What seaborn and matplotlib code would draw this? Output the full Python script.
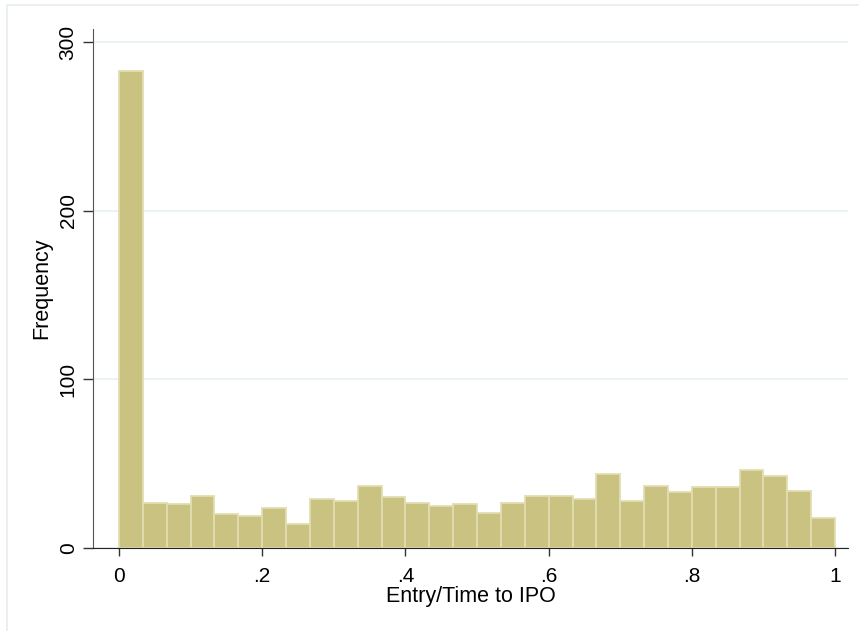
import matplotlib
matplotlib.use("Agg")

import numpy as np
import pandas as pd
import matplotlib.pyplot as plt
from matplotlib.lines import Line2D
import seaborn as sns

# 30 equal bins on [0, 1]
counts = [283, 27, 26, 31, 20, 19, 24, 14, 29, 28,
          37, 30, 27, 25, 26, 21, 27, 31, 31, 29,
          44, 28, 37, 33, 36, 36, 46, 43, 34, 18]
n_bins = len(counts)
edges = np.linspace(0, 1, n_bins + 1)
y_ticks = [0, 100, 200, 300]
x_ticks = [0, 0.2, 0.4, 0.6, 0.8, 1.0]
x_labels = ["0", ".2", ".4", ".6", ".8", "1"]

df = pd.DataFrame({"entry": (edges[:-1] + edges[1:]) / 2, "n": counts})

sns.set_style("white")
plt.rcParams["font.family"] = ["Liberation Sans", "DejaVu Sans"]
plt.rcParams["text.color"] = "black"
plt.rcParams["axes.labelcolor"] = "black"
plt.rcParams["xtick.color"] = "black"
plt.rcParams["ytick.color"] = "black"

fig = plt.figure(figsize=(8.59, 6.31), dpi=100)
ax = fig.add_axes([93 / 859, 1 - 548 / 631, (848 - 93) / 859, (548 - 29) / 631])

sns.histplot(data=df, x="entry", weights="n", bins=n_bins, binrange=(0, 1), ax=ax,
             color="#c9c281", edgecolor="#e2ddb0", linewidth=1.3, alpha=1)

ax.set_xlim(-0.0363, 1.018)
ax.set_ylim(0, 308)
ax.set_yticks(y_ticks)
ax.set_yticklabels([str(v) for v in y_ticks], rotation=90, va="center")
ax.set_xticks(x_ticks)
ax.set_xticklabels(x_labels)
ax.yaxis.grid(True, color="#e8f0f3", linewidth=1.2)
ax.set_axisbelow(True)
for s in ["top", "right"]:
    ax.spines[s].set_visible(False)
ax.spines["left"].set_color("#555555")
ax.spines["bottom"].set_color("#222222")
ax.tick_params(axis="y", length=7, width=1, color="#333333", labelsize=15, pad=4)
ax.tick_params(axis="x", length=6, width=1, color="#333333", labelsize=15, pad=8)
ax.tick_params(left=True, bottom=True)

ax.set_xlabel("Entry/Time to IPO", fontsize=15.5, labelpad=0)
ax.set_ylabel("Frequency", fontsize=15.5, labelpad=5)

# outer graph region frame
fig.add_artist(Line2D([7 / 859, 1], [1 - 5 / 631] * 2, color="#e6eef0", lw=1.2))
fig.add_artist(Line2D([7 / 859] * 2, [0, 1 - 5 / 631], color="#e6eef0", lw=1.2))

fig.savefig("out.png", dpi=100)
plt.close(fig)
